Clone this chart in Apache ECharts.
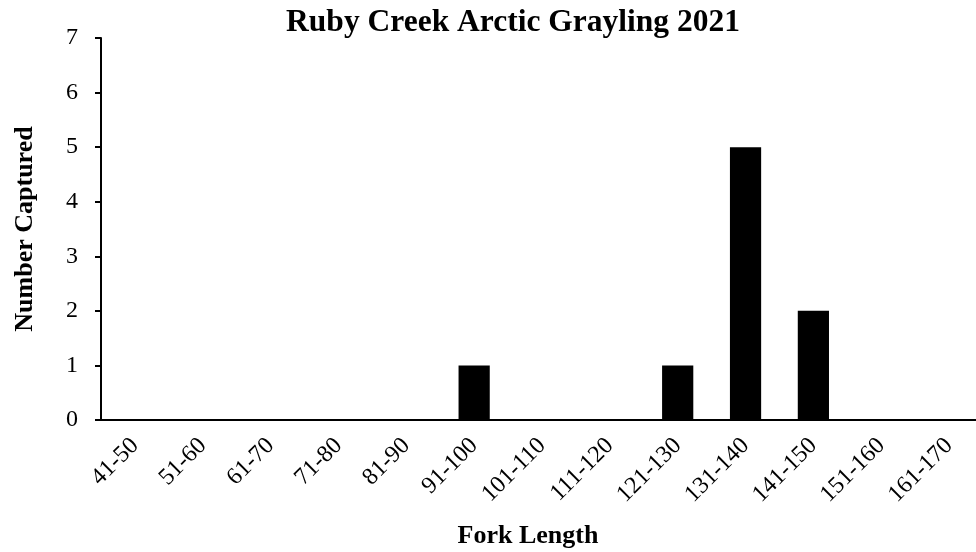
<!DOCTYPE html>
<html>
<head>
<meta charset="utf-8">
<title>Ruby Creek Arctic Grayling 2021</title>
<script src="https://cdn.jsdelivr.net/npm/echarts@6/dist/echarts.min.js"></script>
<style>
  html, body { margin: 0; padding: 0; background: #fff; }
  #chart { width: 976px; height: 552px; }
</style>
</head>
<body>
<div id="chart"></div>
<script>
// fork length classes (mm) and number of fish captured in each
const lengthClasses = ['41-50', '51-60', '61-70', '71-80', '81-90', '91-100', '101-110',
  '111-120', '121-130', '131-140', '141-150', '151-160', '161-170']
const numberCaptured = [0, 0, 0, 0, 0, 1, 0, 0, 1, 5, 2, 0, 0]
const yTicks = { min: 0, max: 7, step: 1 }

const serif = "'Times New Roman', 'Liberation Serif', serif"
const myChart = echarts.init(document.getElementById('chart'))

const option = {
  animation: false,
  title: {
    text: 'Ruby Creek Arctic Grayling 2021',
    left: 508,
    top: 2,
    textAlign: 'center',
    textStyle: { fontFamily: serif, fontSize: 31.5, fontWeight: 'bold', color: '#000' }
  },
  grid: {
    left: 101,
    top: 38,
    width: 882,
    bottom: 132,
    outerBoundsMode: 'none'
  },
  xAxis: {
    type: 'category',
    data: lengthClasses,
    name: 'Fork Length',
    nameLocation: 'middle',
    nameGap: 103,
    nameTextStyle: {
      fontFamily: serif, fontSize: 26, fontWeight: 'bold', color: '#000',
      padding: [0, 28, 0, 0]
    },
    axisLine: { lineStyle: { color: '#000', width: 2 } },
    axisTick: { length: 7, lineStyle: { color: '#000', width: 2 } },
    axisLabel: {
      rotate: 45,
      margin: 22,
      interval: 0,
      fontFamily: serif, fontSize: 24, color: '#000'
    }
  },
  yAxis: {
    type: 'value',
    min: yTicks.min,
    max: yTicks.max,
    interval: yTicks.step,
    name: 'Number Captured',
    nameLocation: 'middle',
    nameGap: 63,
    nameTextStyle: { fontFamily: serif, fontSize: 26, fontWeight: 'bold', color: '#000' },
    axisLine: { show: true, lineStyle: { color: '#000', width: 2 } },
    axisTick: { show: true, length: 6, lineStyle: { color: '#000', width: 2 } },
    axisLabel: { margin: 23, fontFamily: serif, fontSize: 24, color: '#000' },
    splitLine: { show: false }
  },
  series: [
    {
      type: 'bar',
      data: numberCaptured,
      barWidth: '46%',
      itemStyle: { color: '#000' }
    }
  ]
}
myChart.setOption(option)
</script>
</body>
</html>
